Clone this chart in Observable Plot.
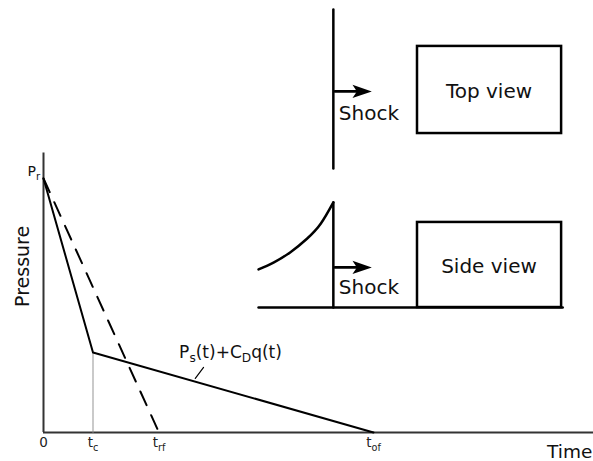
<!DOCTYPE html>
<html>
<head>
<meta charset="utf-8">
<script src="https://cdn.jsdelivr.net/npm/d3@7"></script>
<script src="https://cdn.jsdelivr.net/npm/@observablehq/plot@0.6"></script>
<style>
  html, body { margin: 0; padding: 0; background: #fff; overflow: hidden; }
  #chart svg { display: block; font-family: "DejaVu Sans", sans-serif; }
</style>
</head>
<body>
<div id="chart"></div>
<script>
// ---- Pressure–time schematic (time in arbitrary units, pressure normalised to P_r = 1)
const tickTimes   = [0, 9, 21, 60];                 // 0, t_c, t_rf, t_of
const tickLabels  = ["0", "t_{c}", "t_{rf}", "t_{of}"];
const solidT      = [0, 9, 60];                     // reflected -> stagnation -> zero
const solidP      = [1, 0.315, 0];
const dashedT     = [0, 21];                        // reflected pressure decay to t_rf
const dashedP     = [1, 0];
const tcLineT     = [9, 9];
const tcLineP     = [0, 0.315];
const yAxisTop    = 1.10;

// label texts
const prLabel     = "P_{r}";
const curveLabel  = "P_{s}(t)+C_{D}q(t)";
const xTitle      = "Time";
const yTitle      = "Pressure";

// leader line from label to curve
const leaderT     = [29.1, 27.6];
const leaderP     = [0.256, 0.213];

// ---- Inset sketches (same coordinate frame)
const topShockX   = [52.7, 52.7];
const topShockY   = [1.665, 1.039];
const topArrowX   = [53.0, 59.7];
const topArrowY   = [1.343, 1.343];
const topBox      = {x1: 68.0, x2: 94.2, y1: 1.177, y2: 1.520};

const groundX     = [39.1, 94.4];
const groundY     = [0.492, 0.492];
const sideShockX  = [52.7, 52.7];
const sideShockY  = [0.492, 0.906];
const waveX       = [39.1, 41.9, 44.9, 47.9, 50.4, 52.7];
const waveY       = [0.642, 0.670, 0.710, 0.763, 0.822, 0.906];
const sideArrowX  = [53.0, 59.7];
const sideArrowY  = [0.650, 0.650];
const sideBox     = {x1: 68.0, x2: 94.2, y1: 0.492, y2: 0.827};

const shockTexts  = ["Shock", "Shock"];
const shockTextX  = [53.7, 53.7];
const shockTextY  = [1.257, 0.569];
const viewTexts   = ["Top view", "Side view"];
const viewTextX   = [81.0, 81.0];
const viewTextY   = [1.344, 0.652];

// ---- build tables
const pts = (xs, ys) => xs.map((x, i) => ({x, y: ys[i]}));
const solid  = pts(solidT, solidP);
const dashed = pts(dashedT, dashedP);
const tcLine = pts(tcLineT, tcLineP);
const leader = pts(leaderT, leaderP);
const topShock = pts(topShockX, topShockY);
const ground = pts(groundX, groundY);
const sideShock = pts(sideShockX, sideShockY);
const wave = pts(waveX, waveY);
const arrows = [
  {x1: topArrowX[0], x2: topArrowX[1], y1: topArrowY[0], y2: topArrowY[1]},
  {x1: sideArrowX[0], x2: sideArrowX[1], y1: sideArrowY[0], y2: sideArrowY[1]}
];
const shockLabels = shockTexts.map((t, i) => ({t, x: shockTextX[i], y: shockTextY[i]}));
const viewLabels  = viewTexts.map((t, i) => ({t, x: viewTextX[i], y: viewTextY[i]}));

// stealth-style arrowhead symbol pointing right, centred on its midpoint
const stealth = {
  draw(ctx, size) {
    const s = Math.sqrt(size);
    ctx.moveTo(0.7 * s, 0);
    ctx.lineTo(-0.7 * s, -0.48 * s);
    ctx.lineTo(-0.38 * s, 0);
    ctx.lineTo(-0.7 * s, 0.48 * s);
    ctx.closePath();
  }
};

const plot = Plot.plot({
  width: 593,
  height: 461,
  marginLeft: 43,
  marginRight: 0,
  marginTop: 0,
  marginBottom: 29,
  x: {domain: [0, 100], axis: null},
  y: {domain: [0, 432 / 254], axis: null},
  style: {fontFamily: "DejaVu Sans, sans-serif", background: "#fff", color: "#111", overflow: "hidden"},
  marks: [
    // axes
    Plot.ruleY([0], {stroke: "#333", strokeWidth: 2}),
    Plot.ruleX([0], {y1: 0, y2: yAxisTop, stroke: "#333", strokeWidth: 2}),
    Plot.axisX({ticks: tickTimes, tickFormat: (d) => tickLabels[tickTimes.indexOf(d)], tickSize: 0, tickPadding: 5, fontSize: 13.5, label: null, fill: "#222"}),
    // t_c guide
    Plot.line(tcLine, {x: "x", y: "y", stroke: "#888", strokeWidth: 1, strokeDasharray: "1,1"}),
    // curves
    Plot.line(dashed, {x: "x", y: "y", stroke: "#000", strokeWidth: 2, strokeDasharray: "15,11"}),
    Plot.line(solid, {x: "x", y: "y", stroke: "#000", strokeWidth: 2}),
    Plot.line(leader, {x: "x", y: "y", stroke: "#000", strokeWidth: 1.2}),
    Plot.text([curveLabel], {x: 34.0, y: 0.3165, text: d => d, fontSize: 17, fill: "#111"}),
    Plot.text([prLabel], {x: -0.6, y: 1.028, text: d => d, fontSize: 14, textAnchor: "end", fill: "#111"}),
    Plot.text([xTitle], {x: 99.8, y: -0.0787, text: d => d, fontSize: 18.5, textAnchor: "end", fill: "#111"}),
    Plot.text([yTitle], {x: -3.82, y: 0.654, text: d => d, fontSize: 19, rotate: -90, fill: "#111"}),
    // top view
    Plot.line(topShock, {x: "x", y: "y", stroke: "#000", strokeWidth: 2.5}),
    Plot.rect([topBox, sideBox], {x1: "x1", x2: "x2", y1: "y1", y2: "y2", fill: "none", stroke: "#000", strokeWidth: 2.5}),
    // side view
    Plot.line(ground, {x: "x", y: "y", stroke: "#000", strokeWidth: 2.5}),
    Plot.line(sideShock, {x: "x", y: "y", stroke: "#000", strokeWidth: 2.5}),
    Plot.line(wave, {x: "x", y: "y", stroke: "#000", strokeWidth: 2.5, curve: "natural"}),
    // shock arrows: shaft + filled stealth head
    Plot.arrow(arrows, {x1: "x1", y1: "y1", x2: "x2", y2: "y2", stroke: "#000", strokeWidth: 2.8, headLength: 0, insetEnd: 12}),
    Plot.dot(arrows, {x: "x2", y: "y2", symbol: stealth, r: 7.8, fill: "#000", stroke: "none", dx: -9.7}),
    Plot.text(shockLabels, {x: "x", y: "y", text: "t", textAnchor: "start", fontSize: 20, fill: "#111"}),
    Plot.text(viewLabels, {x: "x", y: "y", text: "t", textAnchor: "middle", fontSize: 20, fill: "#111"})
  ]
});

document.getElementById("chart").appendChild(plot);

// convert "_{...}" markers into real subscript tspans
plot.querySelectorAll("text").forEach(el => {
  const s = el.textContent;
  if (!s.includes("_{")) return;
  const fs = parseFloat(getComputedStyle(el).fontSize) || 12;
  const shift = 0.28 * fs;
  const parts = s.split(/_\{([^}]*)\}/);
  el.textContent = "";
  const NS = "http://www.w3.org/2000/svg";
  let lowered = false;
  parts.forEach((p, i) => {
    if (!p) return;
    const ts = document.createElementNS(NS, "tspan");
    ts.textContent = p;
    if (i % 2 === 1) {
      ts.setAttribute("font-size", (0.72 * fs).toFixed(1));
      if (!lowered) { ts.setAttribute("dy", shift.toFixed(1)); lowered = true; }
    } else if (lowered) {
      ts.setAttribute("dy", (-shift).toFixed(1));
      lowered = false;
    }
    el.appendChild(ts);
  });
});
</script>
</body>
</html>
